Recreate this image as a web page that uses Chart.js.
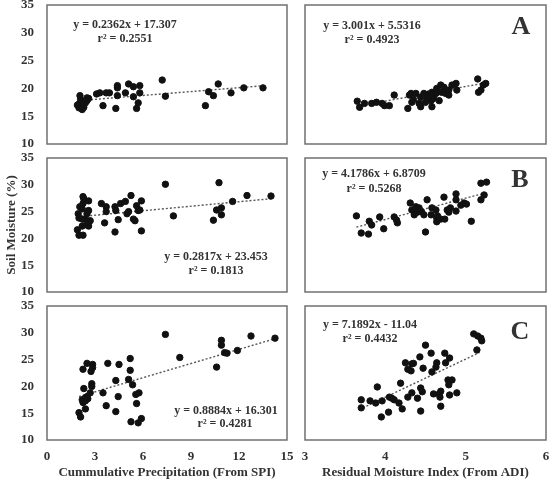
<!DOCTYPE html>
<html>
<head>
<meta charset="utf-8">
<script src="https://cdn.jsdelivr.net/npm/chart.js@4.4.1/dist/chart.umd.min.js"></script>
<style>
  body { margin: 0; background: #fff; width: 552px; height: 479px; position: relative; overflow: hidden; }
  canvas { position: absolute; }
</style>
</head>
<body>
<canvas id="tl"></canvas>
<canvas id="tr"></canvas>
<canvas id="ml"></canvas>
<canvas id="mr"></canvas>
<canvas id="bl"></canvas>
<canvas id="br"></canvas>
<script>
// ---- data ----
// cumulative precipitation (SPI) vs soil moisture, rows A / B / C
const spiA_x = [2.0, 2.1, 2.2, 2.3, 2.0, 2.4, 2.2, 2.5, 2.6, 2.1, 1.9, 2.3, 2.06, 2.5,
  3.1, 3.3, 3.7, 3.5, 3.9, 4.3, 4.4, 4.4, 4.4, 4.9, 5.1, 5.4, 5.4, 5.8, 5.8, 5.7, 5.6,
  7.2, 7.4, 9.9, 10.1, 10.4, 10.7, 11.5, 12.3, 13.5];
const spiA_y = [16.5, 16.8, 17.0, 16.6, 17.2, 17.4, 16.2, 17.8, 18.2, 18.0, 17.0, 17.6, 18.7, 18.3,
  19.0, 19.2, 19.2, 16.9, 19.2, 16.4, 18.7, 20.5, 20.1, 19.2, 20.8, 18.5, 20.3, 20.5, 19.2, 17.4, 16.4,
  21.5, 18.6, 16.9, 19.4, 18.7, 20.8, 19.2, 20.1, 20.1];

const spiB_x = [1.9, 2.0, 2.25, 2.0, 2.2, 2.25, 2.3, 2.2, 2.4, 2.5, 2.5, 2.6, 2.6, 2.7, 2.05, 1.95, 2.2, 2.5, 2.6, 2.25,
  3.4, 3.6, 3.7, 3.7, 4.25, 4.25, 4.3, 4.45, 4.6, 4.9, 5.0, 5.1, 5.25, 5.4, 5.5, 5.6, 5.7, 5.8, 5.9, 5.9,
  7.4, 7.9, 10.4, 10.6, 10.75, 10.9, 10.9, 11.6, 12.5, 14.0];
const spiB_y = [21.6, 20.6, 20.6, 23.8, 25.5, 26.5, 27.4, 22.3, 23.6, 24.6, 22.5, 27.0, 25.2, 23.3, 25.9, 24.6, 23.6, 23.1, 22.3, 27.8,
  26.5, 22.9, 25.9, 25.0, 25.9, 21.2, 25.2, 23.5, 26.5, 26.9, 24.6, 25.0, 28.0, 23.6, 23.3, 26.1, 25.2, 25.3, 27.0, 21.4,
  30.1, 24.2, 23.4, 25.3, 30.4, 25.7, 24.4, 26.9, 28.0, 27.9];

const spiC_x = [2.0, 2.1, 2.25, 2.5, 2.85, 2.75, 2.85, 2.3, 2.8, 2.8, 2.2, 2.25, 2.4, 2.5, 2.55, 2.7, 2.4, 2.4,
  3.5, 3.7, 3.8, 4.3, 4.3, 4.45, 4.5, 5.2, 5.2, 5.1, 5.25, 5.35, 5.55, 5.6, 5.75, 5.7, 5.9,
  7.4, 8.3, 10.6, 10.9, 10.9, 11.1, 11.25, 11.9, 12.75, 14.25];
const spiC_y = [15.1, 14.3, 23.2, 24.3, 24.1, 22.8, 23.5, 19.6, 20.5, 20.0, 17.5, 17.0, 17.9, 18.1, 17.7, 18.8, 15.8, 17.3,
  18.8, 16.4, 24.3, 21.1, 15.3, 18.1, 24.1, 25.2, 23.0, 21.3, 13.4, 20.3, 18.5, 16.8, 18.8, 13.2, 14.0,
  29.7, 25.4, 23.6, 28.6, 27.7, 26.3, 26.2, 26.7, 29.4, 29.0];

// residual moisture index (ADI) vs soil moisture
const adiA_x = [3.65, 3.68, 3.74, 3.83, 3.89, 3.96, 3.99, 4.11, 4.05, 4.3, 4.32, 4.33, 4.28, 4.38, 4.42, 4.44, 4.44,
  4.48, 4.5, 4.54, 4.57, 4.58, 4.58, 4.6, 4.63, 4.64, 4.67, 4.7, 4.69, 4.75, 4.73, 4.79, 4.79, 4.83, 4.88, 4.89,
  5.15, 5.16, 5.19, 5.22, 5.25, 4.35, 4.52];
const adiA_y = [17.7, 16.6, 17.3, 17.3, 17.5, 17.3, 16.9, 18.8, 16.9, 18.8, 19.1, 17.5, 16.4, 19.1, 17.3, 18.4, 16.7,
  19.1, 17.5, 19.0, 17.8, 19.3, 16.7, 18.2, 19.1, 20.0, 17.8, 19.3, 20.6, 19.1, 20.2, 18.8, 19.7, 20.6, 20.9, 19.7,
  21.7, 19.3, 19.7, 20.6, 20.9, 18.0, 18.5];

const adiB_x = [3.64, 3.7, 3.79, 3.8, 3.83, 3.93, 3.98, 4.11, 4.14, 4.15, 4.31, 4.33, 4.36, 4.38, 4.4, 4.45, 4.48, 4.5,
  4.52, 4.57, 4.58, 4.63, 4.64, 4.64, 4.69, 4.73, 4.74, 4.77, 4.79, 4.81, 4.88, 4.88, 4.88, 4.94, 4.98, 5.01, 5.07,
  5.19, 5.19, 5.23, 5.26, 4.42, 4.65];
const adiB_y = [24.2, 21.0, 20.8, 23.2, 22.5, 24.0, 21.8, 24.0, 23.4, 22.9, 26.6, 25.3, 24.4, 25.9, 24.9, 25.0, 24.4, 21.2,
  27.2, 24.4, 25.7, 25.3, 23.8, 23.1, 23.6, 27.7, 23.6, 25.3, 24.9, 25.7, 28.3, 27.2, 25.1, 26.2, 26.6, 26.4, 23.2,
  27.2, 30.3, 28.1, 30.5, 25.7, 24.2];

const adiC_x = [3.7, 3.7, 3.81, 3.88, 3.9, 3.95, 3.96, 4.04, 4.05, 4.08, 4.11, 4.17, 4.19, 4.21, 4.25, 4.28, 4.28, 4.32,
  4.33, 4.35, 4.33, 4.4, 4.43, 4.44, 4.44, 4.46, 4.47, 4.5, 4.57, 4.58, 4.6, 4.63, 4.64, 4.67, 4.68, 4.69, 4.69,
  4.74, 4.75, 4.78, 4.79, 4.8, 4.8, 4.83, 4.89, 5.1, 5.15, 5.19, 5.2, 5.14];
const adiC_y = [17.5, 16.0, 17.3, 16.9, 19.9, 14.3, 17.3, 15.2, 18.0, 17.8, 17.5, 16.9, 20.6, 15.8, 24.4, 18.0, 23.2, 22.9,
  24.2, 24.3, 18.8, 17.8, 25.5, 19.7, 15.4, 19.0, 23.4, 27.7, 26.2, 22.7, 18.6, 23.6, 24.4, 18.6, 18.0, 16.3, 19.1,
  26.2, 24.4, 21.2, 20.3, 25.3, 18.4, 21.2, 18.8, 29.8, 29.4, 29.0, 28.5, 26.8];

// trendline end points as drawn
const trendA_spi = { x: [2.0, 13.6], y: [17.8, 20.5] };
const trendB_spi = { x: [2.2, 14.0], y: [24.1, 27.4] };
const trendC_spi = { x: [2.0, 14.25], y: [18.1, 28.9] };
const trendA_adi = { x: [3.65, 5.25], y: [16.8, 21.0] };
const trendB_adi = { x: [3.64, 5.2], y: [22.1, 28.3] };
const trendC_adi = { x: [3.72, 5.17], y: [16.0, 26.3] };

const spiTicks = [0, 3, 6, 9, 12, 15];
const adiTicks = [3, 4, 5, 6];
const yTicks = [10, 15, 20, 25, 30, 35];

// ---- styling ----
const serif = "'Liberation Serif', 'DejaVu Serif', serif";
const textColor = "#333";
const tickFont = { family: serif, size: 13, weight: "bold" };
const eqFont = { family: serif, size: 12, weight: "bold" };

function pts(xs, ys) {
  return xs.map((x, i) => ({ x: x, y: ys[i] }));
}

// gray frame round the plot area + equation text
const panelPlugin = {
  id: "panel",
  beforeDatasetsDraw(chart) {
    const a = chart.chartArea, ctx = chart.ctx;
    ctx.save();
    ctx.strokeStyle = "#707070";
    ctx.lineWidth = 1.5;
    ctx.strokeRect(a.left, a.top, a.right - a.left, a.bottom - a.top);
    ctx.restore();
  },
  afterDraw(chart, args, opts) {
    const a = chart.chartArea, ctx = chart.ctx;
    ctx.save();
    ctx.fillStyle = textColor;
    ctx.textAlign = "center";
    ctx.textBaseline = "middle";
    (opts.labels || []).forEach(l => {
      const f = l.font || eqFont;
      ctx.font = `${f.weight || "normal"} ${f.size}px ${f.family}`;
      ctx.fillText(l.text, a.left + l.dx, a.top + l.dy);
    });
    ctx.restore();
  }
};

function makePanel(id, cfg) {
  const cv = document.getElementById(id);
  cv.width = cfg.w; cv.height = cfg.h;
  cv.style.left = cfg.left + "px"; cv.style.top = cfg.top + "px";
  cv.style.width = cfg.w + "px"; cv.style.height = cfg.h + "px";

  const showX = !!cfg.xTitle;
  const xScale = {
    type: "linear", min: cfg.xMin, max: cfg.xMax,
    display: showX,
    grid: { display: false, drawTicks: false },
    border: { display: false },
    afterBuildTicks(s) { s.ticks = cfg.xTicks.map(v => ({ value: v })); },
    ticks: { font: tickFont, color: textColor, padding: 9, autoSkip: false, maxRotation: 0 },
    title: { display: showX, text: cfg.xTitle || "", font: tickFont, color: textColor, padding: { top: 4, bottom: 0 } },
    afterFit(s) {
      // layout padding decides the plot area, not the tick labels
      s.paddingLeft = 0; s.paddingRight = 0;
      if (showX) s.height = 40;
    }
  };
  const yScale = {
    type: "linear", min: 10, max: 35,
    display: cfg.showY,
    grid: { display: false, drawTicks: false },
    border: { display: false },
    afterBuildTicks(s) { s.ticks = yTicks.map(v => ({ value: v })); },
    ticks: { font: tickFont, color: textColor, padding: 13, autoSkip: false },
    title: { display: !!cfg.yTitle, text: cfg.yTitle || "", font: tickFont, color: textColor, padding: { top: 4, bottom: 0 } },
    afterFit(s) {
      s.paddingTop = 0; s.paddingBottom = 0;
      if (cfg.showY) s.width = 47;
    }
  };

  return new Chart(cv, {
    type: "scatter",
    data: {
      datasets: [
        {
          data: pts(cfg.xs, cfg.ys),
          backgroundColor: "#111",
          borderColor: "#111",
          pointRadius: 3.2,
          pointHoverRadius: 3.2
        },
        {
          type: "line",
          data: pts(cfg.trend.x, cfg.trend.y),
          borderColor: "#555",
          borderWidth: 1.4,
          borderDash: [2, 2],
          pointRadius: 0,
          fill: false
        }
      ]
    },
    options: {
      responsive: false,
      animation: false,
      devicePixelRatio: 1,
      layout: { padding: cfg.pad },
      plugins: {
        legend: { display: false },
        tooltip: { enabled: false },
        panel: { labels: cfg.labels }
      },
      scales: { x: xScale, y: yScale }
    },
    plugins: [panelPlugin]
  });
}

const letterFont = { family: serif, size: 26, weight: "bold" };

// left column plot area x 47..287, right column 305..546
// rows: 5..144, 158..292, 306..440
makePanel("tl", {
  left: 0, top: -5, w: 297, h: 159, pad: { left: 0, right: 10, top: 10, bottom: 10 },
  xs: spiA_x, ys: spiA_y, trend: trendA_spi, xMin: 0, xMax: 15, xTicks: spiTicks, showY: true,
  labels: [
    { text: "y = 0.2362x + 17.307", dx: 78, dy: 20 },
    { text: "r² = 0.2551", dx: 78, dy: 34 }
  ]
});
makePanel("tr", {
  left: 295, top: -5, w: 257, h: 159, pad: { left: 10, right: 6, top: 10, bottom: 10 },
  xs: adiA_x, ys: adiA_y, trend: trendA_adi, xMin: 3, xMax: 6, xTicks: adiTicks, showY: false,
  labels: [
    { text: "y = 3.001x + 5.5316", dx: 67, dy: 21 },
    { text: "r² = 0.4923", dx: 67, dy: 35 },
    { text: "A", dx: 216, dy: 22, font: letterFont }
  ]
});
makePanel("ml", {
  left: 0, top: 148, w: 297, h: 154, pad: { left: 0, right: 10, top: 10, bottom: 10 },
  xs: spiB_x, ys: spiB_y, trend: trendB_spi, xMin: 0, xMax: 15, xTicks: spiTicks, showY: true,
  yTitle: "Soil Moisture (%)",
  labels: [
    { text: "y = 0.2817x + 23.453", dx: 169, dy: 99 },
    { text: "r² = 0.1813", dx: 169, dy: 113 }
  ]
});
makePanel("mr", {
  left: 295, top: 148, w: 257, h: 154, pad: { left: 10, right: 6, top: 10, bottom: 10 },
  xs: adiB_x, ys: adiB_y, trend: trendB_adi, xMin: 3, xMax: 6, xTicks: adiTicks, showY: false,
  labels: [
    { text: "y = 4.1786x + 6.8709", dx: 69, dy: 16 },
    { text: "r² = 0.5268", dx: 69, dy: 31 },
    { text: "B", dx: 215, dy: 22, font: letterFont }
  ]
});
makePanel("bl", {
  left: 0, top: 296, w: 297, h: 184, pad: { left: 0, right: 10, top: 10, bottom: 0 },
  xs: spiC_x, ys: spiC_y, trend: trendC_spi, xMin: 0, xMax: 15, xTicks: spiTicks, showY: true,
  xTitle: "Cummulative Precipitation (From SPI)",
  labels: [
    { text: "y = 0.8884x + 16.301", dx: 179, dy: 105 },
    { text: "r² = 0.4281", dx: 178, dy: 118 }
  ]
});
makePanel("br", {
  left: 295, top: 296, w: 257, h: 184, pad: { left: 10, right: 6, top: 10, bottom: 0 },
  xs: adiC_x, ys: adiC_y, trend: trendC_adi, xMin: 3, xMax: 6, xTicks: adiTicks, showY: false,
  xTitle: "Residual Moisture Index (From ADI)",
  labels: [
    { text: "y = 7.1892x - 11.04", dx: 65, dy: 19 },
    { text: "r² = 0.4432", dx: 65, dy: 33 },
    { text: "C", dx: 215, dy: 26, font: letterFont }
  ]
});
</script>
</body>
</html>
